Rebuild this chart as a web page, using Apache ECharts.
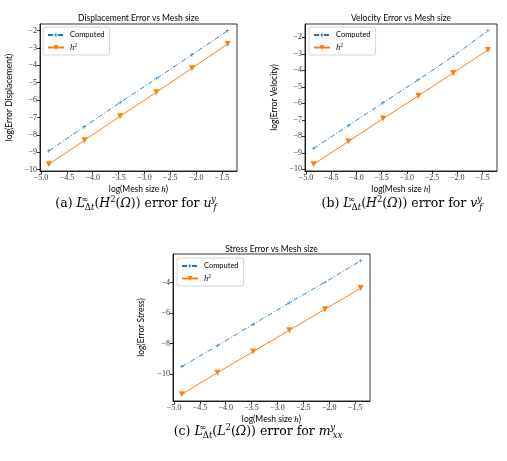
<!DOCTYPE html>
<html>
<head>
<meta charset="utf-8">
<script src="https://cdn.jsdelivr.net/npm/echarts@6/dist/echarts.min.js"></script>
<style>
  html, body { margin: 0; padding: 0; background: #fff; }
  #chart { width: 507px; height: 461px; }
</style>
</head>
<body>
<div id="chart"></div>
<script>
// log of mesh size h (h = 1/128 ... 1/4)
const logH = [-4.85, -4.16, -3.47, -2.77, -2.08, -1.39];

// (a) displacement
const dispComputed = [-8.93, -7.53, -6.14, -4.76, -3.39, -2.0];
const dispH2 = [-9.70, -8.32, -6.93, -5.55, -4.16, -2.77];
// (b) velocity
const velComputed = [-8.74, -7.35, -5.97, -4.57, -3.15, -1.6];
const velH2 = [-9.70, -8.32, -6.93, -5.55, -4.16, -2.77];
// (c) stress
const stressComputed = [-9.5, -8.13, -6.73, -5.33, -3.98, -2.58];
const stressH2 = [-11.31, -9.9, -8.52, -7.12, -5.75, -4.37];

const xTicks = [-5.0, -4.5, -4.0, -3.5, -3.0, -2.5, -2.0, -1.5];
const yTicksAB = [-10, -9, -8, -7, -6, -5, -4, -3, -2];
const yTicksC = [-10, -8, -6, -4];

const titles = ["Displacement Error vs Mesh size", "Velocity Error vs Mesh size", "Stress Error vs Mesh size"];
const yNames = ["log(Error Displacement)", "log(Error Velocity)", "log(Error Stress)"];

const BLUE = "#1f77b4";
const ORANGE = "#ff7f0e";
const SANS = "Lato, 'Liberation Sans', sans-serif";
const SERIF = "'Liberation Serif', 'DejaVu Serif', serif";
const CAPSERIF = "'DejaVu Serif', serif";

// panel boxes
const panels = [
  { left: 40, top: 24, width: 197, height: 147, ymin: -10.085, ymax: -1.615, yTicks: yTicksAB },
  { left: 305, top: 24, width: 192, height: 147, ymin: -10.105, ymax: -1.195, yTicks: yTicksAB },
  { left: 173, top: 254, width: 197, height: 147, ymin: -11.75, ymax: -2.14, yTicks: yTicksC }
];
const seriesData = [
  [dispComputed, dispH2],
  [velComputed, velH2],
  [stressComputed, stressH2]
];

const minus = (v, d) => (v < 0 ? "\u2212" : "") + Math.abs(v).toFixed(d);

const chart = echarts.init(document.getElementById("chart"), null, { renderer: "canvas" });

const grid = panels.map(p => ({
  left: p.left, top: p.top, width: p.width, height: p.height,
  show: true, borderColor: "#000", borderWidth: 0.8, backgroundColor: "transparent"
}));

const xAxis = panels.map((p, i) => ({
  type: "value", gridIndex: i, min: -5.02, max: -1.21,
  splitLine: { show: false },
  axisLine: { show: true, onZero: false, lineStyle: { color: "#000", width: 0.8 } },
  axisTick: { show: true, inside: false, length: 3, customValues: xTicks, lineStyle: { color: "#000", width: 0.8 } },
  axisLabel: { customValues: xTicks, formatter: v => minus(v, 1), fontSize: 8, fontFamily: SERIF, color: "#333", margin: 3 },
  name: "log(Mesh size {it|h})", nameLocation: "middle", nameGap: 14,
  nameTextStyle: { fontSize: 8.5, fontFamily: SANS, color: "#000", rich: { it: { fontStyle: "italic", fontFamily: SERIF, fontSize: 9 } } }
}));

const yAxis = panels.map((p, i) => ({
  type: "value", gridIndex: i, min: p.ymin, max: p.ymax,
  splitLine: { show: false },
  axisLine: { show: true, onZero: false, lineStyle: { color: "#000", width: 0.8 } },
  axisTick: { show: true, inside: false, length: 3, customValues: p.yTicks, lineStyle: { color: "#000", width: 0.8 } },
  axisLabel: { customValues: p.yTicks, formatter: v => minus(v, 0), fontSize: 8, fontFamily: SERIF, color: "#333", margin: 3 },
  name: yNames[i], nameLocation: "middle", nameGap: i === 2 ? 27 : 26,
  nameTextStyle: { fontSize: 8.5, fontFamily: SANS, color: "#000" }
}));

const series = [];
seriesData.forEach((pair, i) => {
  series.push({
    name: "Computed", type: "line", xAxisIndex: i, yAxisIndex: i,
    data: logH.map((x, k) => [x, pair[0][k]]),
    symbol: "path://M-0.5,-4H0.5V-0.5H4V0.5H0.5V4H-0.5V0.5H-4V-0.5H-0.5Z",
    symbolSize: 4, showSymbol: true,
    lineStyle: { color: BLUE, width: 0.9, type: [5, 2, 1, 2] },
    itemStyle: { color: BLUE }
  });
  series.push({
    name: "h2", type: "line", xAxisIndex: i, yAxisIndex: i,
    data: logH.map((x, k) => [x, pair[1][k]]),
    symbol: "triangle", symbolRotate: 180, symbolSize: 6,
    lineStyle: { color: ORANGE, width: 1 },
    itemStyle: { color: ORANGE }
  });
});

const legendPos = [[43, 27], [309, 27], [177, 258]];
const legend = legendPos.map(pos => ({
  data: ["Computed", "h2"], left: pos[0], top: pos[1], orient: "vertical",
  itemWidth: 16, itemHeight: 6, itemGap: 4, padding: [4, 5, 3, 4],
  borderColor: "#ccc", borderWidth: 0.8, borderRadius: 2, backgroundColor: "rgba(255,255,255,0.8)",
  formatter: n => (n === "h2" ? "{it|h}{sup|2}" : n),
  textStyle: {
    fontSize: 7.5, fontFamily: SANS, color: "#000", padding: [0, 0, 0, 1],
    rich: { it: { fontStyle: "italic", fontFamily: SERIF, fontSize: 8.5 }, sup: { fontSize: 5.5, fontFamily: SERIF, verticalAlign: "top", lineHeight: 6 } }
  }
}));

const capRich = {
  it: { fontStyle: "italic", fontFamily: CAPSERIF, fontSize: 12.5 },
  sup: { fontSize: 8.5, fontFamily: CAPSERIF, verticalAlign: "top", lineHeight: 8 },
  sup0: { fontSize: 8.5, fontFamily: CAPSERIF, verticalAlign: "top", lineHeight: 8, width: 0.01 },
  sub: { fontSize: 8.5, fontFamily: CAPSERIF, verticalAlign: "bottom", lineHeight: 8 },
  subi: { fontSize: 8.5, fontFamily: CAPSERIF, fontStyle: "italic", verticalAlign: "bottom", lineHeight: 8 },
  supi0: { fontSize: 8.5, fontFamily: CAPSERIF, fontStyle: "italic", verticalAlign: "top", lineHeight: 8, width: 0.01, padding: [0, 0, 0, 2] }
};
const captions = [
  { x: 136, y: 204, text: "(a) {it|L}{sup0|\u221e}{sub|\u0394}{subi|t}({it|H}{sup|2}({it|\u03a9})) error for {it|u}{supi0|y}{subi|f}" },
  { x: 402, y: 204, text: "(b) {it|L}{sup0|\u221e}{sub|\u0394}{subi|t}({it|H}{sup|2}({it|\u03a9})) error for {it|v}{supi0|y}{subi|f}" },
  { x: 258, y: 432, text: "(c) {it|L}{sup0|\u221e}{sub|\u0394}{subi|t}({it|L}{sup|2}({it|\u03a9})) error for {it|m}{supi0|y}{subi|xx}" }
];

const titlePos = [[138.5, 18], [401, 18], [271.5, 249]];
const graphic = titlePos.map((p, i) => ({
  type: "text", x: p[0], y: p[1],
  style: { text: titles[i], fill: "#000", font: "8.5px " + SANS, align: "center", verticalAlign: "middle" }
})).concat(captions.map(c => ({
  type: "text", x: c.x, y: c.y,
  style: { text: c.text, fill: "#000", fontSize: 12.5, fontFamily: CAPSERIF, align: "center", verticalAlign: "middle", rich: capRich, lineHeight: 17 }
})));

chart.setOption({
  animation: false,
  backgroundColor: "#fff",
  grid, xAxis, yAxis, series, legend, graphic
});
</script>
</body>
</html>
